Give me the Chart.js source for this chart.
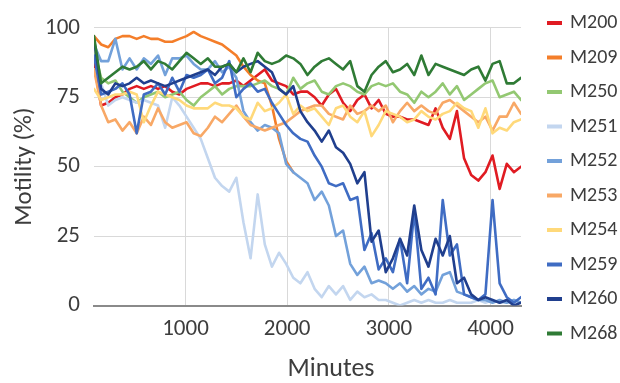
<!DOCTYPE html>
<html lang="en">
<head>
    <meta charset="UTF-8">
    <title>Motility over time</title>
    <script src="https://cdn.jsdelivr.net/npm/chart.js"></script>
    <style>
        body { margin: 0; background: #fff; }
        canvas { display: block; }
    </style>
</head>
<body>
    <canvas id="chart" width="620" height="383"></canvas>

    <script>
        // sampling times (minutes)
        const minutes = [100, 170, 240, 310, 380, 450, 520, 590, 660, 730,
            800, 870, 940, 1010, 1080, 1150, 1220, 1290, 1360, 1430,
            1500, 1570, 1640, 1710, 1780, 1850, 1920, 1990, 2060, 2130,
            2200, 2270, 2340, 2410, 2480, 2550, 2620, 2690, 2760, 2830,
            2900, 2970, 3040, 3110, 3180, 3250, 3320, 3390, 3460, 3530,
            3600, 3670, 3740, 3810, 3880, 3950, 4020, 4090, 4160, 4230, 4300];

        const xTickValues = [1000, 2000, 3000, 4000];
        const yTickValues = [0, 25, 50, 75, 100];

        const seriesNames = ["M200", "M209", "M250", "M251", "M252", "M253", "M254", "M259", "M260", "M268"];
        const seriesColors = ["#E01B22", "#F47E2A", "#93C872", "#C3D6EF", "#73A1DA", "#F8A866", "#FFD97A", "#3F6CC3", "#203F8E", "#2F7B35"];

        // motility (%) per strain
        const m200 = [87, 72, 73, 75, 76, 78, 79, 78, 79, 78,
            79, 77, 76, 78, 79, 80, 80, 79, 80, 80,
            81, 79, 81, 83, 85, 81, 80, 79, 76, 77,
            77, 75, 72, 76, 78, 73, 70, 74, 76, 71,
            74, 69, 68, 68, 67, 67, 66, 65, 71, 64,
            60, 70, 53, 47, 45, 48, 54, 42, 51, 48, 50];
        const m209 = [97, 94, 93, 96, 97, 97, 96, 97, 96, 96,
            95, 95, 96, 97, 98.5, 97, 96, 95, 94, 92,
            90, 86, 83, 81, 80, 72, 60, 52, 48];
        const m250 = [92, 82, 80, 81, 77, 75, 73, 75, 76, 77,
            75, 76, 77, 74, 72, 75, 77, 79, 76, 78,
            79, 79, 79, 80, 81, 79, 78, 76, 82, 78,
            80, 81, 77, 76, 79, 80, 79, 77, 76, 79,
            80, 79, 80, 77, 76, 73, 77, 75, 77, 80,
            76, 79, 74, 76, 78, 80, 81, 75, 76, 77, 74];
        const m251 = [85, 80, 72, 74, 75, 74, 73, 74, 73, 72,
            64, 75, 72, 68, 64, 60, 53, 46, 43, 41,
            46, 30, 17, 40, 22, 14, 19, 15, 10, 8,
            12, 6, 3, 7, 4, 7, 2, 5, 3, 4,
            2, 2, 1, 0, 1, 2, 1, 2, 1, 1,
            2, 1, 1, 1, 2, 1, 2, 1, 1, 2, 1];
        const m252 = [94, 88, 88, 96, 85, 89, 85, 89, 87, 90,
            83, 89, 89, 90, 87, 85, 85, 88, 84, 86,
            82, 70, 66, 63, 65, 64, 62, 51, 48, 46,
            44, 38, 41, 36, 25, 27, 15, 11, 14, 8,
            9, 8, 6, 8, 5, 7, 4, 6, 5, 11,
            12, 5, 4, 3, 2, 2, 1, 2, 1, 2, 1];
        const m253 = [85, 72, 66, 67, 63, 66, 62, 68, 65, 71,
            66, 64, 65, 66, 62, 61, 64, 68, 66, 69,
            72, 68, 65, 64, 63, 64, 65, 66, 68, 70,
            71, 72, 72, 69, 68, 67, 72, 69, 70, 72,
            70, 72, 66, 70, 73, 70, 72, 70, 69, 73,
            74, 72, 70, 68, 66, 68, 63, 68, 68, 73, 69];
        const m254 = [78, 74, 75, 76, 76, 77, 76, 66, 72, 77,
            76, 75, 74, 72, 71, 71, 71, 73, 72, 72,
            71, 68, 67, 73, 70, 71, 73, 76, 69, 72,
            70, 71, 68, 65, 71, 72, 68, 66, 70, 61,
            65, 70, 69, 68, 66, 67, 70, 68, 67, 69,
            70, 73, 71, 70, 64, 71, 62, 64, 63, 66, 67];
        const m259 = [90, 76, 77, 78, 80, 76, 62, 76, 77, 80,
            76, 82, 77, 83, 82, 83, 85, 80, 82, 88,
            75, 78, 80, 77, 78, 73, 69, 65, 62, 60,
            59, 54, 50, 44, 43, 44, 38, 39, 20, 26,
            13, 17, 12, 24, 8, 34, 6, 10, 4, 38,
            18, 22, 4, 3, 2, 4, 38, 8, 3, 1, 3];
        const m260 = [96, 78, 76, 80, 79, 80, 82, 80, 81, 80,
            79, 80, 81, 82, 83, 84, 85, 83, 86, 87,
            84, 86, 87, 88, 86, 84, 78, 76, 79, 70,
            66, 63, 59, 63, 57, 55, 51, 44, 48, 23,
            27, 12, 17, 24, 18, 36, 20, 14, 24, 18,
            25, 8, 10, 4, 2, 3, 2, 1, 2, 0, 1];
        const m268 = [97, 80, 82, 84, 86, 85, 86, 88, 85, 88,
            87, 85, 88, 91, 89, 87, 89, 86, 86, 87,
            84, 89, 84, 91, 88, 87, 88, 90, 89, 87,
            83, 86, 88, 89, 87, 85, 88, 79, 77, 83,
            86, 88, 84, 85, 87, 83, 90, 83, 87, 86,
            85, 84, 83, 85, 86, 81, 87, 88, 80, 80, 82];

        const seriesValues = [m200, m209, m250, m251, m252, m253, m254, m259, m260, m268];

        const textColor = "#3d3d3d";
        const fontFamily = "Carlito, Lato, sans-serif";

        // legend on the right, one line sample + name per series
        const sideLegend = {
            id: "sideLegend",
            afterDraw(chart) {
                const ctx = chart.ctx;
                ctx.save();
                ctx.font = "20px " + fontFamily;
                ctx.textBaseline = "middle";
                ctx.textAlign = "left";
                chart.data.datasets.forEach((ds, i) => {
                    const y = 23 + i * 34.5;
                    ctx.fillStyle = ds.borderColor;
                    ctx.fillRect(547, y - 2, 15, 4);
                    ctx.fillStyle = textColor;
                    ctx.fillText(ds.label, 570, y);
                });
                // x axis title
                ctx.font = "26px " + fontFamily;
                ctx.textAlign = "center";
                ctx.fillText("Minutes", 331, 369);
                ctx.restore();
            }
        };

        const datasets = seriesNames.map((name, k) => ({
            label: name,
            data: seriesValues[k].map((v, i) => ({ x: minutes[i], y: v })),
            borderColor: seriesColors[k],
            backgroundColor: seriesColors[k],
            borderWidth: 2.6,
            pointRadius: 0,
            tension: 0,
            borderJoinStyle: "round",
            borderCapStyle: "round",
            fill: false,
            order: -k  // later series on top, like the original
        }));

        new Chart(document.getElementById("chart").getContext("2d"), {
            type: "line",
            data: { datasets: datasets },
            options: {
                responsive: false,
                animation: false,
                devicePixelRatio: 1,
                layout: { padding: { left: 10, top: 26, right: 99, bottom: 0 } },
                plugins: {
                    legend: { display: false },
                    tooltip: { enabled: false }
                },
                scales: {
                    x: {
                        type: "linear",
                        min: 100,
                        max: 4300,
                        afterBuildTicks: s => { s.ticks = xTickValues.map(v => ({ value: v })); },
                        afterFit: s => { s.height = 77.5; },
                        grid: { color: "#d9d9d9", lineWidth: 1, drawTicks: false },
                        border: { display: true, color: "#8a8a8a", width: 2 },
                        ticks: {
                            padding: 10,
                            color: textColor,
                            font: { family: fontFamily, size: 23 },
                            maxRotation: 0,
                            callback: v => String(v)
                        }
                    },
                    y: {
                        min: 0,
                        max: 100,
                        afterBuildTicks: s => { s.ticks = yTickValues.map(v => ({ value: v })); },
                        afterFit: s => { s.width = 84; },
                        grid: { color: "#d9d9d9", lineWidth: 1, drawTicks: false },
                        border: { display: false },
                        ticks: {
                            padding: 14,
                            color: textColor,
                            font: { family: fontFamily, size: 23 }
                        },
                        title: {
                            display: true,
                            text: "Motility (%)",
                            color: textColor,
                            font: { family: fontFamily, size: 25 },
                            padding: { top: 0, bottom: 4 }
                        }
                    }
                }
            },
            plugins: [sideLegend]
        });
    </script>
</body>
</html>
